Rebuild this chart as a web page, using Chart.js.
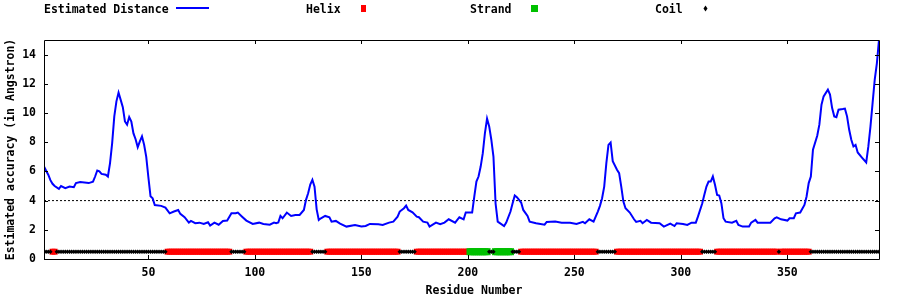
<!DOCTYPE html>
<html><head><meta charset="utf-8">
<style>html,body{margin:0;padding:0;background:#fff;}canvas{display:block;}</style>
<script src="https://cdn.jsdelivr.net/npm/chart.js@4.4.1/dist/chart.umd.min.js"></script>
</head><body>
<canvas id="c" width="900" height="300"></canvas>
<script>
// ---- data ----
const residues = [1,2,3,4,5,6,8,9,11,13,15,16,18,22,24,25,26,27,28,30,31,32,33,34,35,36,37,38,39,40,41,42,43,44,45,46,47,48,49,50,51,52,53,56,58,60,62,64,65,67,69,70,72,74,76,78,79,81,83,85,87,89,91,92,94,96,99,102,104,107,109,110,111,112,113,115,117,119,121,123,124,125,126,127,128,129,130,131,133,135,136,138,140,143,147,150,152,154,158,160,163,165,167,168,170,171,172,174,176,177,179,181,182,185,187,189,191,194,196,198,199,202,203,204,205,206,207,208,209,210,211,212,213,214,217,218,220,221,222,223,225,226,228,229,232,236,237,241,244,248,251,254,255,257,259,261,262,263,264,265,266,267,268,270,271,272,273,274,276,278,279,281,282,284,286,290,292,295,297,298,301,303,305,307,308,310,311,312,313,314,315,316,317,318,319,320,321,324,326,327,329,332,333,335,336,339,342,344,345,347,350,351,353,354,356,358,359,360,361,362,364,365,366,367,369,370,371,372,373,374,376,377,378,379,380,381,382,383,385,387,388,389,390,391,392,393];
const distances = [6.33,6.05,5.77,5.4,5.15,5.0,4.8,5.0,4.85,4.96,4.92,5.2,5.28,5.2,5.3,5.65,6.06,6.0,5.83,5.77,5.65,6.57,7.94,9.77,10.8,11.4,10.9,10.4,9.42,9.2,9.72,9.42,8.6,8.2,7.66,8.05,8.4,7.82,7.0,5.6,4.3,4.16,3.7,3.64,3.52,3.13,3.25,3.36,3.09,2.86,2.49,2.61,2.45,2.49,2.4,2.52,2.29,2.49,2.35,2.61,2.63,3.13,3.13,3.18,2.9,2.63,2.4,2.49,2.4,2.35,2.49,2.45,2.5,2.95,2.79,3.18,2.95,3.02,3.02,3.36,4.05,4.5,5.1,5.42,4.96,3.4,2.68,2.79,2.95,2.86,2.56,2.61,2.42,2.22,2.33,2.22,2.26,2.4,2.38,2.33,2.49,2.56,2.9,3.25,3.48,3.66,3.36,3.2,2.9,2.86,2.56,2.49,2.22,2.49,2.38,2.49,2.72,2.49,2.86,2.72,3.18,3.18,4.28,5.3,5.65,6.33,7.25,8.63,9.61,9.08,8.17,7.02,3.8,2.56,2.26,2.49,3.25,3.82,4.35,4.23,3.87,3.36,2.95,2.56,2.45,2.35,2.54,2.56,2.49,2.49,2.4,2.54,2.45,2.72,2.56,3.25,3.64,4.16,4.96,6.57,7.82,7.98,6.7,6.11,5.88,4.96,3.93,3.48,3.18,2.72,2.54,2.61,2.45,2.68,2.49,2.45,2.22,2.43,2.26,2.45,2.4,2.33,2.49,2.49,2.9,3.8,4.4,4.96,5.3,5.3,5.65,5.08,4.39,4.35,3.82,2.79,2.56,2.49,2.61,2.33,2.22,2.22,2.49,2.68,2.49,2.49,2.49,2.79,2.86,2.72,2.63,2.79,2.79,3.13,3.18,3.7,4.28,5.2,5.65,7.48,8.44,9.2,10.57,11.14,11.6,11.26,10.34,9.77,9.72,10.23,10.27,10.3,9.77,8.85,8.17,7.71,7.82,7.3,6.95,6.61,7.71,9.08,10.69,12.29,13.4,15.0];
const xTicks = [50,100,150,200,250,300,350];
const yTicks = [0,2,4,6,8,10,12,14];
const thresholdDistance = 4;
const ssLevel = 0.5;
const helixRanges = [[5,6],[59,88],[96,126],[134,167],[176,200],[225,260],[270,309],[317,345],[347,360]];
const strandRanges = [[201,209],[213,220]];
const coilRanges = [[1,4],[7,58],[89,95],[127,133],[168,175],[210,212],[221,224],[261,269],[310,316],[346,346],[361,393]];
const legendLabels = ['Estimated Distance','Helix','Strand','Coil'];
const xTitle = 'Residue Number';
const yTitle = 'Estimated accuracy (in Angstron)';

// ---- build ----
const FONT = {family:'"DejaVu Sans Mono", monospace', size:11.5, weight:'bold'};
const FONTSTR = 'bold 11.5px "DejaVu Sans Mono", monospace';
function rangePoints(ranges){
  const pts=[];
  ranges.forEach(([a,b])=>{for(let r=a;r<=b;r++)pts.push({x:r,y:ssLevel});});
  return pts;
}
const distPts = residues.map((r,i)=>({x:r,y:distances[i]}));
const xMin = residues[0], xMax = residues[residues.length-1];

const frame = {
  id:'frame',
  afterDraw(chart){
    const {ctx, chartArea:a} = chart;
    const xs = chart.scales.x, ys = chart.scales.y;
    ctx.save();
    ctx.strokeStyle='#000'; ctx.lineWidth=1;
    ctx.beginPath();
    ctx.rect(Math.round(a.left)+0.5, Math.round(a.top)+0.5, Math.round(a.right-a.left), Math.round(a.bottom-a.top));
    const L=4;
    xTicks.forEach(v=>{
      const p=Math.round(xs.getPixelForValue(v))+0.5;
      ctx.moveTo(p,a.bottom); ctx.lineTo(p,a.bottom-L);
      ctx.moveTo(p,a.top); ctx.lineTo(p,a.top+L);
    });
    yTicks.forEach(v=>{
      const p=Math.round(ys.getPixelForValue(v))+0.5;
      ctx.moveTo(a.left,p); ctx.lineTo(a.left+L,p);
      ctx.moveTo(a.right,p); ctx.lineTo(a.right-L,p);
    });
    ctx.stroke();
    ctx.font=FONTSTR; ctx.fillStyle='#000';
    // x axis title (gnuplot centres it on the canvas-wide plot box)
    ctx.textAlign='center'; ctx.textBaseline='middle';
    ctx.fillText(xTitle, 474, 291);
    // legend (gnuplot style: label then sample)
    ctx.textBaseline='alphabetic'; ctx.textAlign='left';
    const by=13;
    ctx.fillText(legendLabels[0],44,by);
    ctx.strokeStyle='#0000ff'; ctx.lineWidth=2;
    ctx.beginPath(); ctx.moveTo(176,8); ctx.lineTo(209,8); ctx.stroke();
    ctx.fillText(legendLabels[1],306,by);
    ctx.fillStyle='#ff0000'; ctx.fillRect(361,5,5,7);
    ctx.fillStyle='#000';
    ctx.fillText(legendLabels[2],470,by);
    ctx.fillStyle='#00c000'; ctx.fillRect(531,5,7,7);
    ctx.fillStyle='#000';
    ctx.fillText(legendLabels[3],655,by);
    ctx.beginPath(); ctx.moveTo(705.5,5.5); ctx.lineTo(707.5,8.5); ctx.lineTo(705.5,11.5); ctx.lineTo(703.5,8.5); ctx.closePath(); ctx.fill();
    ctx.restore();
  }
};

new Chart(document.getElementById('c'), {
  type:'scatter',
  data:{datasets:[
    {label:legendLabels[0], data:distPts, showLine:true, borderColor:'#0000ff', borderWidth:2, pointRadius:0, tension:0, order:5},
    {label:'threshold', data:[{x:xMin,y:thresholdDistance},{x:xMax,y:thresholdDistance}], showLine:true, borderColor:'#000', borderWidth:1, borderDash:[2,2], pointRadius:0, order:6},
    {label:legendLabels[1], data:rangePoints(helixRanges), pointStyle:'rect', radius:4.2, backgroundColor:'#ff0000', borderWidth:0, order:3},
    {label:legendLabels[2], data:rangePoints(strandRanges), pointStyle:'rect', radius:5, backgroundColor:'#00c000', borderWidth:0, order:2},
    {label:legendLabels[3], data:rangePoints(coilRanges), pointStyle:'rectRot', radius:2.2, backgroundColor:'#000', borderWidth:0, order:1}
  ]},
  options:{
    responsive:false, animation:false, devicePixelRatio:1,
    layout:{padding:{left:0,right:21,top:40,bottom:0}},
    plugins:{legend:{display:false}, tooltip:{enabled:false}},
    scales:{
      x:{type:'linear', min:xMin, max:xMax,
        afterBuildTicks:s=>{s.ticks=xTicks.map(v=>({value:v}));},
        afterFit:s=>{s.height=41;},
        grid:{display:false, drawTicks:false}, border:{display:false},
        ticks:{font:FONT, color:'#000', padding:7, maxRotation:0, autoSkip:false},
        title:{display:false}
      },
      y:{type:'linear', min:0, max:15,
        afterBuildTicks:s=>{s.ticks=yTicks.map(v=>({value:v}));},
        afterFit:s=>{s.width=44;},
        grid:{display:false, drawTicks:false}, border:{display:false},
        ticks:{font:FONT, color:'#000', padding:8, autoSkip:false},
        title:{display:true, text:yTitle, font:FONT, color:'#000', padding:{top:4,bottom:0}}
      }
    }
  },
  plugins:[frame]
});
</script>
</body></html>
